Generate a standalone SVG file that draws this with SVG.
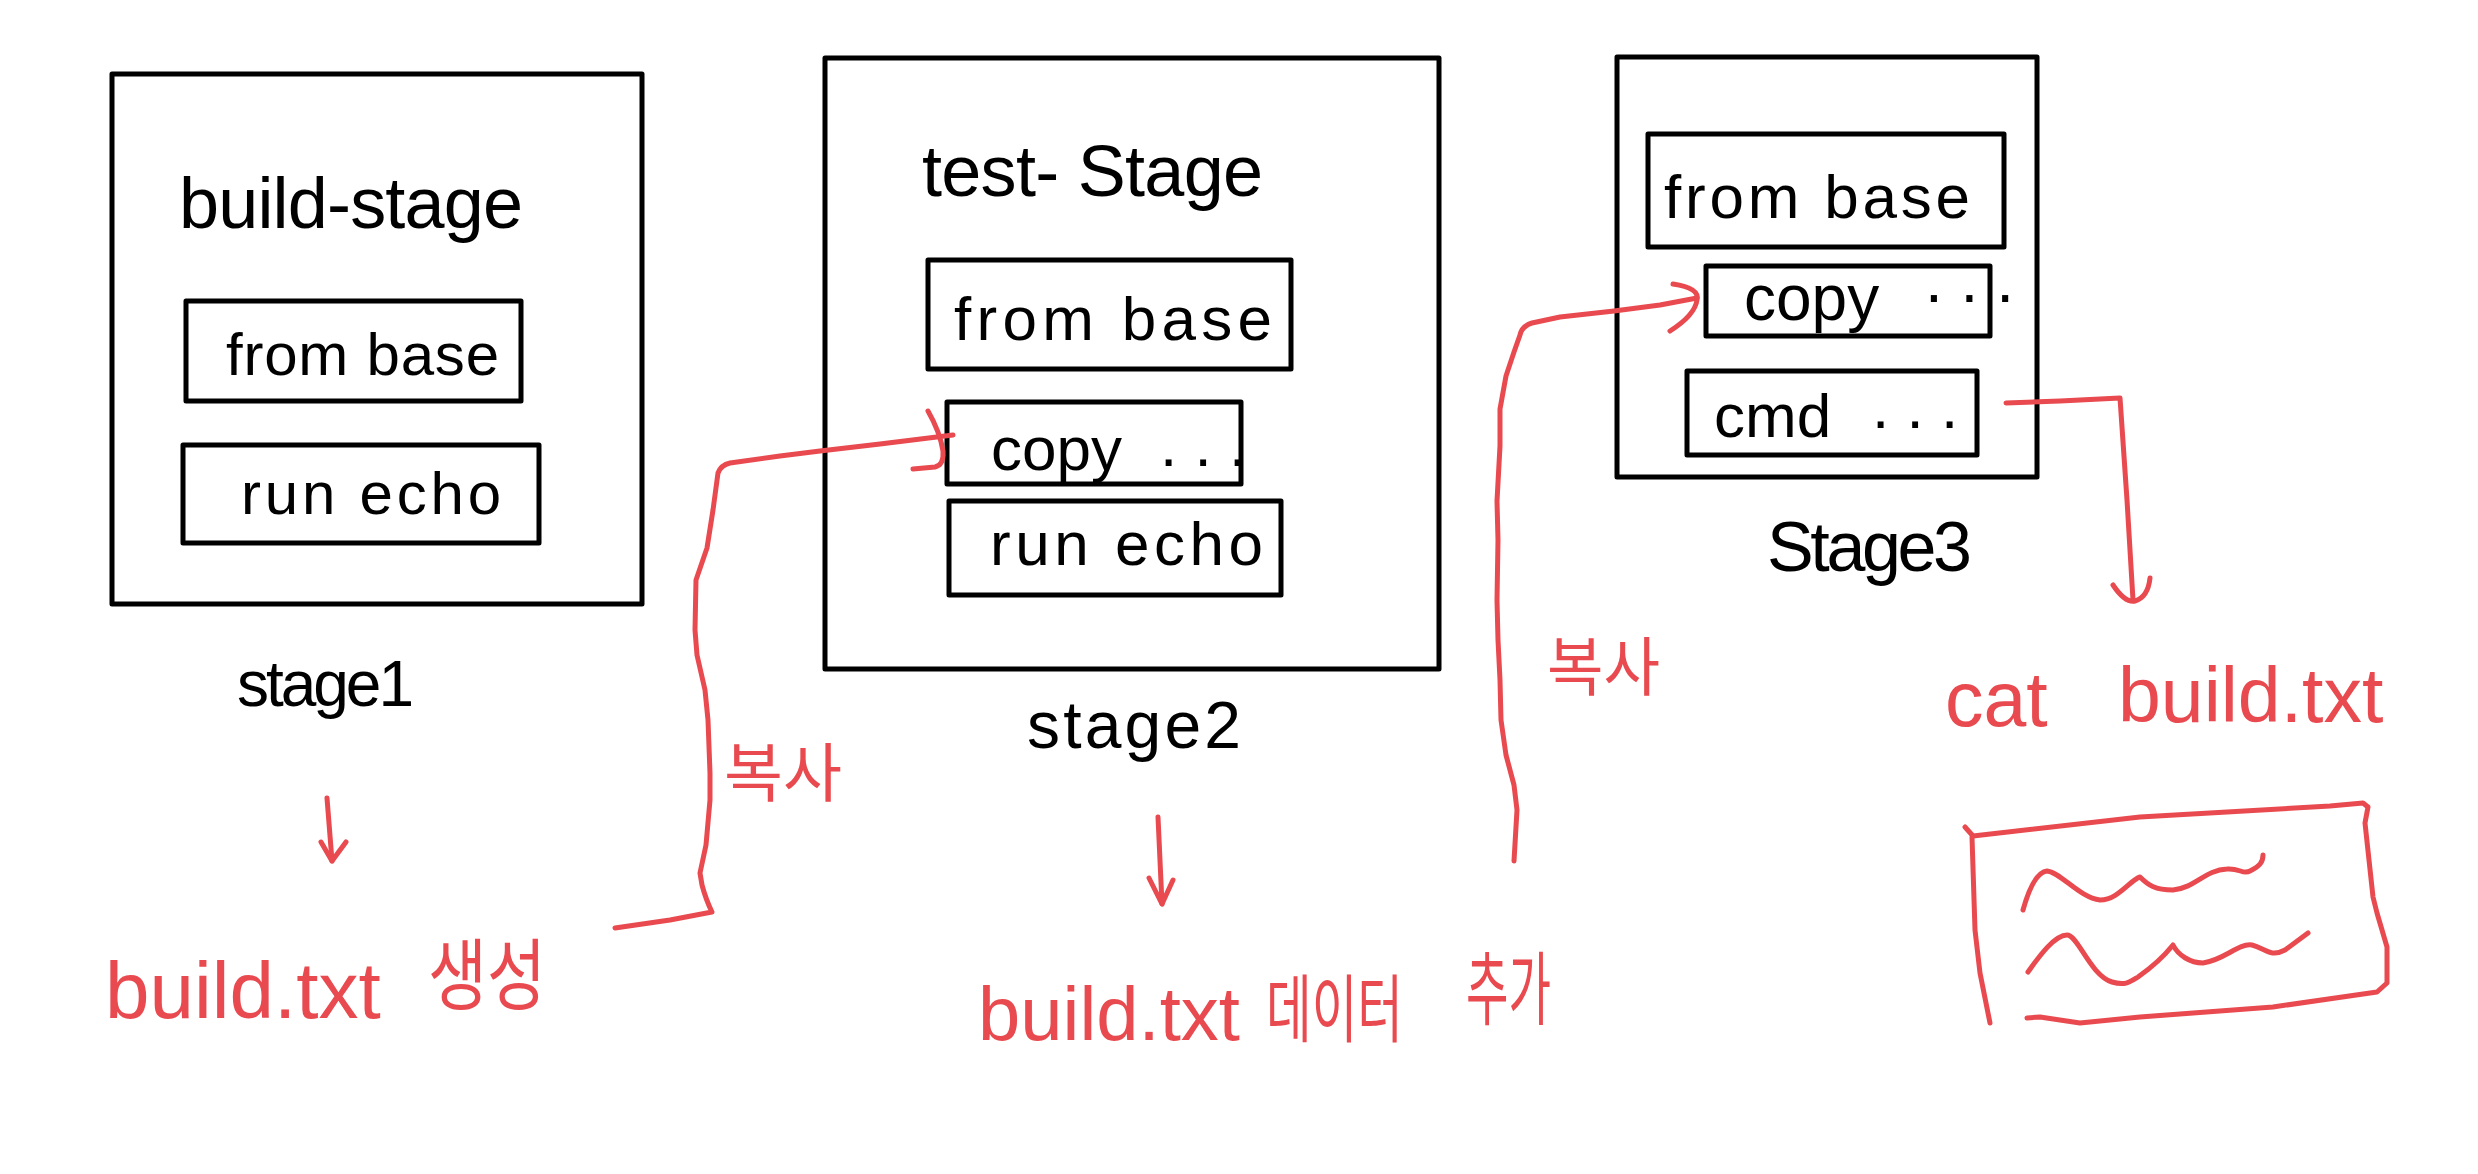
<svg xmlns="http://www.w3.org/2000/svg" width="2478" height="1174" viewBox="0 0 2478 1174">
<style>
.box{fill:none;stroke:#000;stroke-width:5;stroke-linejoin:round}
.t{font-family:"Liberation Sans","Noto Sans CJK KR",sans-serif;fill:#000}
.r{font-family:"Liberation Sans","Noto Sans CJK KR",sans-serif;fill:#e84a4f}
.ln{fill:none;stroke:#e84a4f;stroke-width:5;stroke-linecap:round;stroke-linejoin:round}
</style>
<rect width="2478" height="1174" fill="#fff"/>

<g id="stage1">
<rect class="box" x="112" y="74" width="530" height="530"/>
<text class="t" x="179" y="228" font-size="72" textLength="344" lengthAdjust="spacing">build-stage</text>
<rect class="box" x="186" y="301" width="335" height="100"/>
<text class="t" x="226" y="375" font-size="60" textLength="273" lengthAdjust="spacing">from base</text>
<rect class="box" x="183" y="445" width="356" height="98"/>
<text class="t" x="241" y="514" font-size="60" textLength="260" lengthAdjust="spacing">run echo</text>
<text class="t" x="237" y="706" font-size="64" textLength="177" lengthAdjust="spacing">stage1</text>
</g>

<g id="stage2">
<rect class="box" x="825" y="58" width="614" height="611"/>
<text class="t" x="922" y="196" font-size="72" textLength="341" lengthAdjust="spacing">test- Stage</text>
<rect class="box" x="928" y="260" width="363" height="109"/>
<text class="t" x="954" y="340" font-size="62" textLength="318" lengthAdjust="spacing">from base</text>
<rect class="box" x="947" y="402" width="294" height="82"/>
<text class="t" font-size="62"><tspan x="991" y="470">copy</tspan><tspan x="1160" y="466">. . .</tspan></text>
<rect class="box" x="949" y="501" width="332" height="94"/>
<text class="t" x="990" y="565" font-size="62" textLength="273" lengthAdjust="spacing">run echo</text>
<text class="t" x="1027" y="748" font-size="66" textLength="214" lengthAdjust="spacing">stage2</text>
</g>

<g id="stage3">
<rect class="box" x="1617" y="57" width="420" height="420"/>
<rect class="box" x="1648" y="134" width="356" height="113"/>
<text class="t" x="1664" y="218" font-size="62" textLength="306" lengthAdjust="spacing">from base</text>
<rect class="box" x="1706" y="266" width="284" height="70"/>
<text class="t" font-size="64"><tspan x="1744" y="320">copy</tspan><tspan x="1925" y="302">. . .</tspan></text>
<rect class="box" x="1687" y="371" width="290" height="84"/>
<text class="t" font-size="62"><tspan x="1714" y="437">cmd</tspan><tspan x="1872" y="428">. . .</tspan></text>
<text class="t" x="1767" y="571" font-size="70" textLength="205" lengthAdjust="spacing">Stage3</text>
</g>

<g id="result1">
<text class="r" font-size="80"><tspan x="105" y="1018">build.txt</tspan><tspan x="428" y="1004" font-size="78" textLength="118" lengthAdjust="spacingAndGlyphs">생성</tspan></text>
</g>

<g id="result2">
<text class="r" font-size="76"><tspan x="978" y="1040">build.txt</tspan><tspan x="1266" y="1036" font-size="74" textLength="137" lengthAdjust="spacingAndGlyphs">데이터</tspan><tspan x="1466" y="1018" font-size="80" textLength="85" lengthAdjust="spacingAndGlyphs">추가</tspan></text>
</g>

<g id="result3">
<text class="r" font-size="77"><tspan x="1945" y="726">cat</tspan><tspan x="2118" y="722">build.txt</tspan></text>
</g>

<g id="output-doc">
<path class="ln" d="M1965,827 L1973,836 L2140,817 L2330,806 L2363,803 L2368,807 L2365,823 L2373,897 L2377,913 L2387,947 L2387,983 L2377,992 L2273,1007 L2140,1017 L2080,1023 L2040,1017 L2027,1018"/>
<path class="ln" d="M1972,837 L1975,930 L1980,973 L1990,1023"/>
<path class="ln" d="M2023,910 C2030,885 2038,872 2047,871 C2060,872 2080,898 2100,900 C2118,900 2130,880 2140,877 C2148,885 2155,890 2173,890 C2195,888 2205,870 2227,869 C2240,868 2243,875 2250,871 C2260,866 2263,862 2263,855"/>
<path class="ln" d="M2028,972 C2040,955 2055,935 2067,935 C2078,935 2090,975 2112,982 C2125,986 2130,982 2138,977 C2155,965 2165,955 2173,945 C2178,955 2190,963 2203,963 C2225,960 2238,943 2252,945 C2265,948 2270,958 2285,950 L2308,933"/>
</g>

<g id="connectors">
<text class="r" x="724" y="796" font-size="64" textLength="118" lengthAdjust="spacingAndGlyphs">복사</text>
<text class="r" x="1547" y="690" font-size="64" textLength="113" lengthAdjust="spacingAndGlyphs">복사</text>
<path class="ln" d="M327,798 L332,861"/>
<path class="ln" d="M321,842 L332,861 L346,842"/>
<path class="ln" d="M1158,817 L1162,904"/>
<path class="ln" d="M1149,878 L1162,904 L1173,880"/>
<path class="ln" d="M615,928 L670,920 L712,912 Q706,900 702,885 L700,873 L706,845 L710,800 L710,773 L708,720 L705,690 L697,655 L695,630 L696,580 L707,548 L713,510 L718,473 Q721,465 730,463 L780,456 L820,451 L880,444 L953,435"/>
<path class="ln" d="M928,411 Q940,432 943,451 Q944,465 935,467 L913,469"/>
<path class="ln" d="M1514,861 L1517,810 L1514,785 L1506,755 L1501,720 L1500,680 L1498,640 L1497,600 L1498,540 L1497,501 L1500,446 L1500,409 L1506,376 L1514,352 L1520,335 Q1522,326 1532,323 L1560,317 L1614,311 L1660,305 L1697,298"/>
<path class="ln" d="M1673,284 Q1700,288 1697,300 Q1695,315 1670,331"/>
<path class="ln" d="M2006,403 L2060,401 L2120,398 L2127,500 L2133,600"/>
<path class="ln" d="M2113,585 Q2125,603 2135,601 Q2148,597 2150,578"/>
</g>
</svg>
